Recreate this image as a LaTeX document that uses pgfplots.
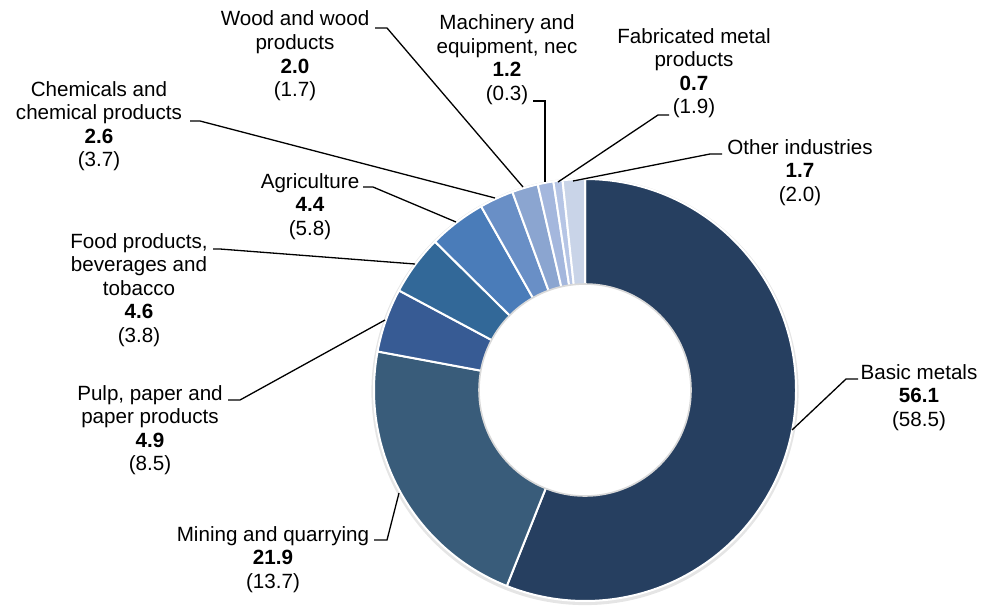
\documentclass[border=0pt]{standalone}
\usepackage{pgfplots}
\usepackage{pgfplotstable}
\usepackage{fontspec}
\setmainfont{Liberation Sans}
\pgfplotsset{compat=1.18}

\definecolor{c1}{RGB}{38,63,96}
\definecolor{c2}{RGB}{57,92,122}
\definecolor{c3}{RGB}{55,91,148}
\definecolor{c4}{RGB}{50,104,152}
\definecolor{c5}{RGB}{74,124,185}
\definecolor{c6}{RGB}{105,143,198}
\definecolor{c7}{RGB}{139,165,208}
\definecolor{c8}{RGB}{164,183,221}
\definecolor{c9}{RGB}{182,197,229}
\definecolor{c10}{RGB}{201,212,232}

% share (%) and previous value in brackets
\pgfplotstableread{
share prev col
56.1 58.5 c1
21.9 13.7 c2
4.9  8.5  c3
4.6  3.8  c4
4.4  5.8  c5
2.6  3.7  c6
2.0  1.7  c7
1.2  0.3  c8
0.7  1.9  c9
1.7  2.0  c10
}\datatable

\def\Rout{105.5pt}
\def\Rin{53pt}

% slice angles, worked out before the axis
\pgfplotstablegetrowsof{\datatable}
\pgfmathtruncatemacro{\nrows}{\pgfplotsretval-1}
\gdef\sumshare{0}
\foreach \i in {0,...,\nrows}{
  \pgfplotstablegetelem{\i}{share}\of\datatable
  \pgfmathparse{\sumshare+\pgfplotsretval}\xdef\sumshare{\pgfmathresult}
}
\gdef\cumshare{0}
\foreach \i in {0,...,\nrows}{
  \pgfplotstablegetelem{\i}{share}\of\datatable
  \let\sliceval\pgfplotsretval
  \pgfmathparse{90-(\cumshare/\sumshare)*360}\expandafter\xdef\csname angA\i\endcsname{\pgfmathresult}
  \pgfmathparse{90-((\cumshare+\sliceval)/\sumshare)*360}\expandafter\xdef\csname angB\i\endcsname{\pgfmathresult}
  \pgfplotstablegetelem{\i}{col}\of\datatable
  \expandafter\xdef\csname scol\i\endcsname{\pgfplotsretval}
  \pgfmathparse{\cumshare+\sliceval}\xdef\cumshare{\pgfmathresult}
}

\begin{document}
\begin{tikzpicture}[
  % anchor=base sits on the last line's baseline
  lbl/.style={align=center, anchor=base, inner sep=0pt,
    font=\fontsize{10.3}{11.75}\selectfont},
  lead/.style={black, line width=0.65pt}]
\begin{axis}[
  hide axis, scale only axis,
  width=491.5pt, height=302.5pt,
  xmin=0, xmax=983, ymin=0, ymax=605,
  y dir=reverse, clip=false,
]
\pgfplotsextra{
  \pgfkeys{/pgf/fpu=false}
  \fill[black!10] (axis cs:585,391.5) circle[radius=106.8pt];
  \foreach \i in {0,...,\nrows}{
    \edef\angA{\csname angA\i\endcsname}
    \edef\angB{\csname angB\i\endcsname}
    \edef\slicecol{\csname scol\i\endcsname}
    \filldraw[fill=\slicecol, draw=white, line width=1pt, line join=round]
      (axis cs:585,390) -- ++(\angA:\Rout)
      arc[start angle=\angA, end angle=\angB, radius=\Rout] -- cycle;
  }
  \filldraw[fill=white, draw=black!15, line width=0.8pt] (axis cs:585,390) circle[radius=\Rin];
}

% leader lines
\draw[lead] (axis cs:858,379) -- (axis cs:846,379) -- (axis cs:792,430);
\draw[lead] (axis cs:374,540) -- (axis cs:387,540) -- (axis cs:399,493);
\draw[lead] (axis cs:228,400) -- (axis cs:240,400) -- (axis cs:385,320);
\draw[lead] (axis cs:213,249) -- (axis cs:220,249) -- (axis cs:415,264);
\draw[lead] (axis cs:363,187) -- (axis cs:373,187) -- (axis cs:456,222);
\draw[lead] (axis cs:190,121) -- (axis cs:200,121) -- (axis cs:495,198);
\draw[lead] (axis cs:375,28) -- (axis cs:387,28) -- (axis cs:523,187);
\draw[lead] (axis cs:533,101) -- (axis cs:545,101) -- (axis cs:545,182);
\draw[lead] (axis cs:669,115) -- (axis cs:658,115) -- (axis cs:558,182);
\draw[lead] (axis cs:722,154) -- (axis cs:710,154) -- (axis cs:573,181);

% labels
\node[lbl] at (axis cs:919,426) {Basic metals\\\textbf{56.1}\\(58.5)};
\node[lbl] at (axis cs:273,588) {Mining and quarrying\\\textbf{21.9}\\(13.7)};
\node[lbl] at (axis cs:150,470.5) {Pulp, paper and\\paper products\\\textbf{4.9}\\(8.5)};
\node[lbl] at (axis cs:139,342) {Food products,\\beverages and\\tobacco\\\textbf{4.6}\\(3.8)};
\node[lbl] at (axis cs:310,235) {Agriculture\\\textbf{4.4}\\(5.8)};
\node[lbl] at (axis cs:99,166.5) {Chemicals and\\chemical products\\\textbf{2.6}\\(3.7)};
\node[lbl] at (axis cs:295,96.5) {Wood and wood\\products\\\textbf{2.0}\\(1.7)};
\node[lbl] at (axis cs:507,100) {Machinery and\\equipment, nec\\\textbf{1.2}\\(0.3)};
\node[lbl] at (axis cs:694,113.5) {Fabricated metal\\products\\\textbf{0.7}\\(1.9)};
\node[lbl] at (axis cs:800,201) {Other industries\\\textbf{1.7}\\(2.0)};
\end{axis}
\pgfresetboundingbox
\useasboundingbox (current axis.south west) rectangle (current axis.north east);
\end{tikzpicture}
\end{document}
